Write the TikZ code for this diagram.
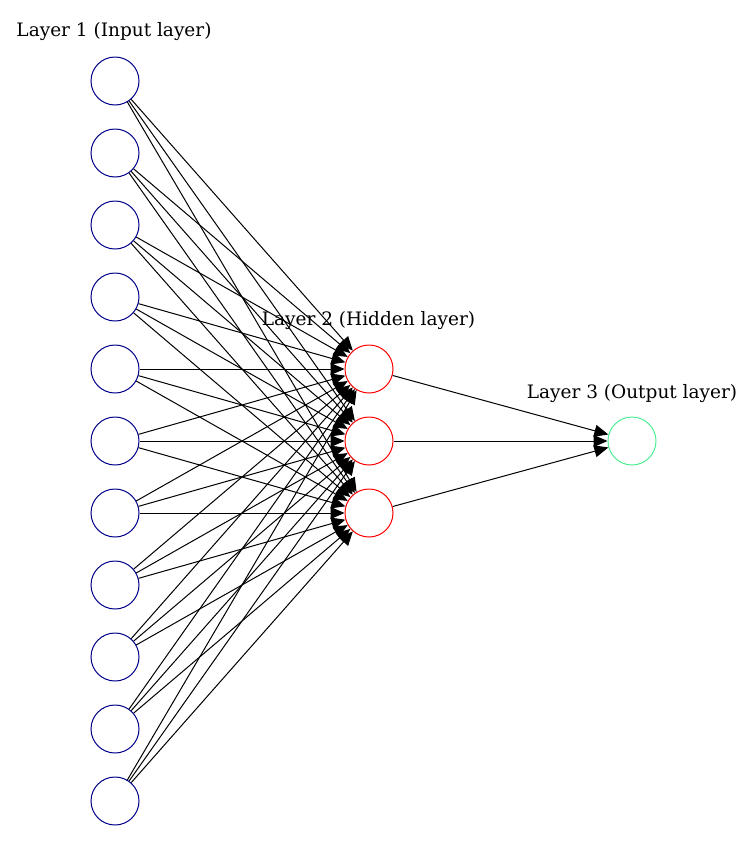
\documentclass[tikz,border=0pt]{standalone}
\usepackage{fontspec}
\setmainfont{DejaVu Serif}
\usetikzlibrary{arrows.meta}
\definecolor{inblue}{HTML}{00008B}
\definecolor{hidred}{HTML}{FF0000}
\definecolor{outgreen}{HTML}{4EEE94}
\begin{document}
\begin{tikzpicture}[x=1pt,y=-1pt,
  neuron/.style={circle,line width=1pt,minimum size=48pt,inner sep=0pt},
  inp/.style={neuron,draw=inblue},
  hid/.style={neuron,draw=hidred},
  outp/.style={neuron,draw=outgreen},
  lbl/.style={font=\fontsize{18.5}{21}\selectfont,anchor=base,inner sep=0pt},
  conn/.style={line width=1pt,-{Triangle[length=14pt,width=12pt]}}]
\fill[white] (0,0) rectangle (755,852);
\useasboundingbox (0,0) rectangle (755,852);
\foreach \k in {1,...,11} {
  \node[inp] (i\k) at (115,{81+72*(\k-1)}) {};
}
\node[hid] (h1) at (369,369) {};
\node[hid] (h2) at (369,441) {};
\node[hid] (h3) at (369,513) {};
\node[outp] (o1) at (632,441) {};
\node[lbl] (l1) at (114,36.7) {Layer 1 (Input layer)};
\node[lbl] (l2) at (368.5,325) {Layer 2 (Hidden layer)};
\node[lbl] (l3) at (632,398) {Layer 3 (Output layer)};
\foreach \k in {1,...,11} {
  \foreach \j in {1,2,3} {
    \draw[conn] (i\k) -- (h\j);
  }
}
\foreach \j in {1,2,3} {
  \draw[conn] (h\j) -- (o1);
}
\end{tikzpicture}
\end{document}
